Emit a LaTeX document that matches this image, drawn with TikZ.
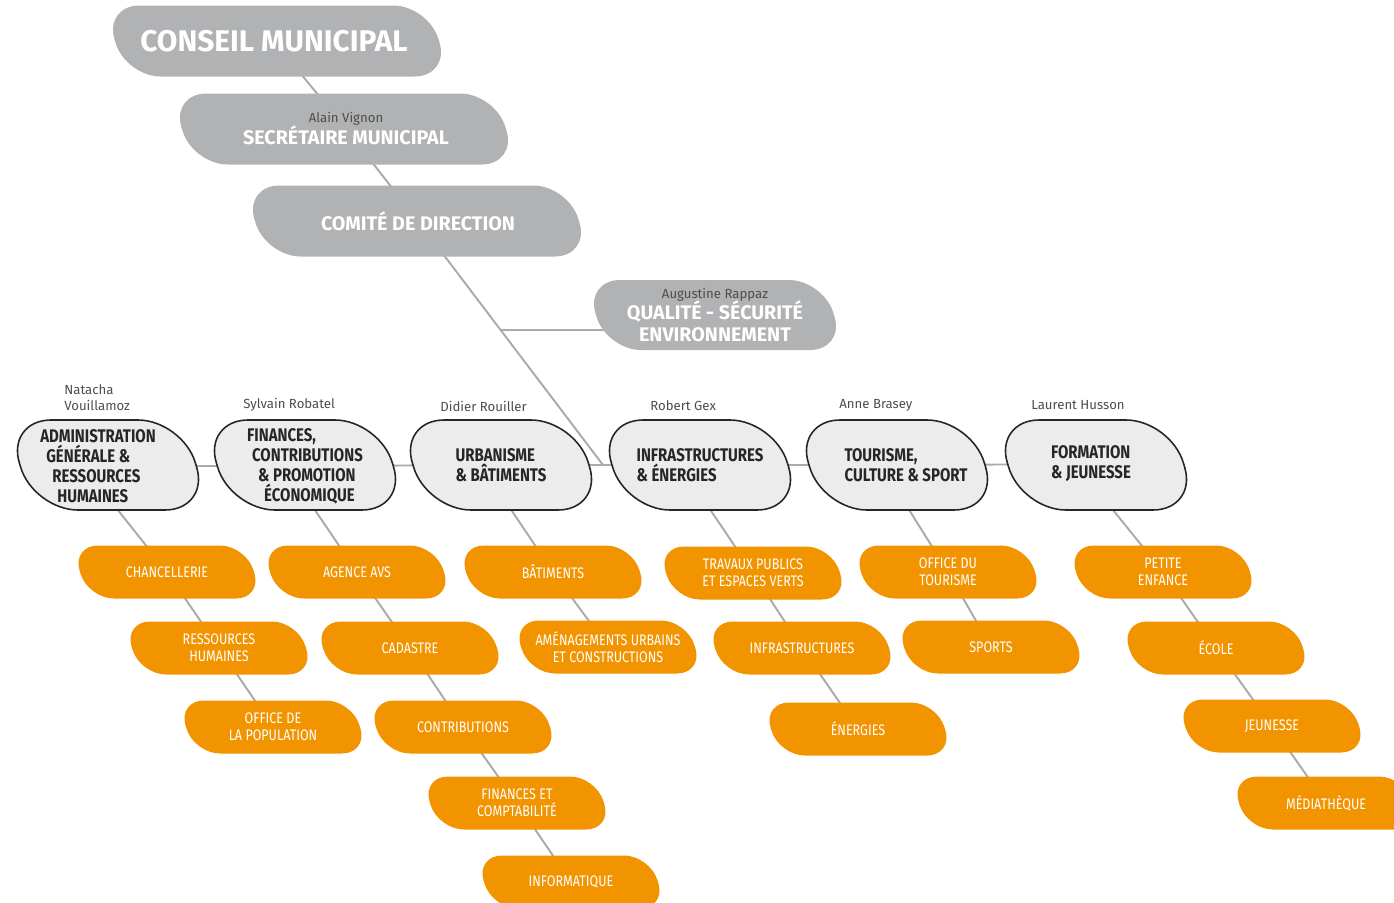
\documentclass[tikz,border=0pt]{standalone}
\usepackage{fontspec}
\setmainfont{Fira Sans}
\newfontfamily\narrowfont[FakeStretch=0.82]{Fira Sans}
\usetikzlibrary{calc}

\definecolor{boxgray}{RGB}{177,178,180}
\definecolor{deptgray}{RGB}{236,236,236}
\definecolor{orangebox}{RGB}{242,148,0}
\definecolor{linegray}{RGB}{170,170,170}
\definecolor{persongray}{RGB}{77,77,77}

\pgfdeclarelayer{lines}
\pgfdeclarelayer{boxes}
\pgfsetlayers{lines,boxes,main}

\tikzset{
  topbox/.style={fill=boxgray},
  deptbox/.style={fill=deptgray, draw=black!85, line width=0.9pt},
  subbox/.style={fill=orangebox},
  toptext/.style={text=white, align=center, font=\bfseries\fontsize{11.2}{12.5}\selectfont},
  depttext/.style={text=black!85, align=left, font=\narrowfont\bfseries\fontsize{10.4}{11.4}\selectfont},
  subtext/.style={text=white, align=center, font=\narrowfont\fontsize{8.7}{9.8}\selectfont},
  person/.style={text=persongray, align=left, anchor=west, inner sep=0pt, font=\fontsize{7.5}{9}\selectfont},
  link/.style={draw=linegray, line width=1.1pt}
}

\begin{document}
\begin{tikzpicture}[x=0.02cm, y=-0.02cm]

    \useasboundingbox (0,0) rectangle (1394,903);

    %===========================
    % Direction
    %===========================
    \node (conseil) at (274,41) [toptext, font=\bfseries\fontsize{17}{18}\selectfont] {CONSEIL MUNICIPAL};
    \node (secretaire) at (346,129) [toptext] {{\mdseries\fontsize{7.5}{9}\selectfont\color{persongray}Alain Vignon}\\SECRÉTAIRE MUNICIPAL};
    \node (comite) at (418,221) [toptext] {COMITÉ DE DIRECTION};
    \node (qualite) at (715,315) [toptext] {{\mdseries\fontsize{7.5}{9}\selectfont\color{persongray}Augustine Rappaz}\\QUALITÉ - SÉCURITÉ\\ENVIRONNEMENT};

    %===========================
    % Departments
    %===========================
    \node (admin) at (98,466) [depttext] {ADMINISTRATION\\\hspace*{0.12cm}GÉNÉRALE \&\\\hspace*{0.24cm}RESSOURCES\\\hspace*{0.34cm}HUMAINES};
    \node (finances) at (305,466) [depttext] {FINANCES,\\\hspace*{0.1cm}CONTRIBUTIONS\\\hspace*{0.22cm}\& PROMOTION\\\hspace*{0.34cm}ÉCONOMIQUE};
    \node (urba) at (501,465) [depttext] {URBANISME\\\& BÂTIMENTS};
    \node (infra) at (700,465) [depttext] {INFRASTRUCTURES\\\& ÉNERGIES};
    \node (tourisme) at (906,465) [depttext] {TOURISME,\\CULTURE \& SPORT};
    \node (formation) at (1091,464) [depttext] {FORMATION\\\& JEUNESSE};

    \node (pAdmin) at (64,398) [person] {Natacha\\Vouillamoz};
    \node (pFinances) at (243,405) [person] {Sylvain Robatel};
    \node (pUrba) at (440,406) [person] {Didier Rouiller};
    \node (pInfra) at (650,406) [person] {Robert Gex};
    \node (pTourisme) at (839,405) [person] {Anne Brasey};
    \node (pFormation) at (1031,405) [person] {Laurent Husson};

    %===========================
    % Services
    %===========================
    % Administration
    \node (chan) at (167,572) [subtext] {CHANCELLERIE};
    \node (rh) at (219,648) [subtext] {RESSOURCES\\HUMAINES};
    \node (popu) at (273,727) [subtext] {OFFICE DE\\LA POPULATION};
    % Finances
    \node (avs) at (357,572) [subtext] {AGENCE AVS};
    \node (cadastre) at (410,648) [subtext] {CADASTRE};
    \node (contrib) at (463,727) [subtext] {CONTRIBUTIONS};
    \node (compta) at (517,803) [subtext] {FINANCES ET\\COMPTABILITÉ};
    \node (info) at (571,882) [subtext] {INFORMATIQUE};
    % Urbanisme
    \node (bat) at (553,572) [subtext] {BÂTIMENTS};
    \node (amenag) at (608,647) [subtext] {AMÉNAGEMENTS URBAINS\\ET CONSTRUCTIONS};
    % Infrastructures
    \node (travaux) at (753,573) [subtext] {TRAVAUX PUBLICS\\ET ESPACES VERTS};
    \node (infras) at (802,648) [subtext] {INFRASTRUCTURES};
    \node (energies) at (858,729) [subtext] {ÉNERGIES};
    % Tourisme
    \node (office) at (948,572) [subtext] {OFFICE DU\\TOURISME};
    \node (sports) at (991,647) [subtext] {SPORTS};
    % Formation
    \node (petite) at (1163,572) [subtext] {PETITE\\ENFANCE};
    \node (ecole) at (1216,648) [subtext] {ÉCOLE};
    \node (jeunesse) at (1272,726) [subtext] {JEUNESSE};
    \node (media) at (1326,803) [subtext] {MÉDIATHÈQUE};

    %===========================
    % Boxes
    %===========================
    \begin{pgfonlayer}{boxes}
    \foreach \n/\cx in {conseil/277,secretaire/344,comite/417}
      \path[topbox, shift={(\n.center -| \cx,0)}, xslant=-0.3, rounded corners=0.7cm] (-162,-35.5) rectangle (162,35.5);
    \path[topbox, shift={(qualite.center)}, xslant=-0.3, rounded corners=0.69cm] (-119,-35) rectangle (119,35);
    \foreach \n/\cx in {admin/108,finances/305,urba/501,infra/700,tourisme/897,formation/1096}
      \path[deptbox, shift={(\cx,465)}, xslant=-0.3, rounded corners=0.89cm] (-88,-45) rectangle (88,45);
    \foreach \n in {chan,rh,popu,avs,cadastre,contrib,compta,info,bat,amenag,travaux,infras,energies,office,sports,petite,ecole,jeunesse,media}
      \path[subbox, shift={(\n.center)}, xslant=-0.3, rounded corners=0.52cm] (-87,-26.5) rectangle (87,26.5);
    \end{pgfonlayer}

    %===========================
    % Links
    %===========================
    \begin{pgfonlayer}{lines}
    \coordinate (hub) at (603,465);
    \draw[link] (conseil) -- (secretaire) -- (comite) -- (hub);
    \path (comite) -- (hub) coordinate[pos=0.41] (qjoin);
    \draw[link] (qjoin) -- (qjoin -| qualite);
    \draw[link] (admin) -- (finances) -- (urba) -- (infra) -- (tourisme) -- (formation);

    \draw[link] ([xshift=-0.3cm]admin.center) -- (chan) -- (rh) -- (popu);
    \draw[link] ([xshift=-0.4cm]finances.center) -- (avs) -- (cadastre) -- (contrib) -- (compta) -- (info);
    \draw[link] ([xshift=-0.4cm]urba.center) -- (bat) -- (amenag);
    \draw[link] ([xshift=-0.4cm]infra.center) -- (travaux) -- (infras) -- (energies);
    \draw[link] ([xshift=-0.5cm]tourisme.center) -- (office) -- (sports);
    \draw[link] ([xshift=-0.3cm]formation.center) -- (petite) -- (ecole) -- (jeunesse) -- (media);
    \end{pgfonlayer}
\end{tikzpicture}
\end{document}
